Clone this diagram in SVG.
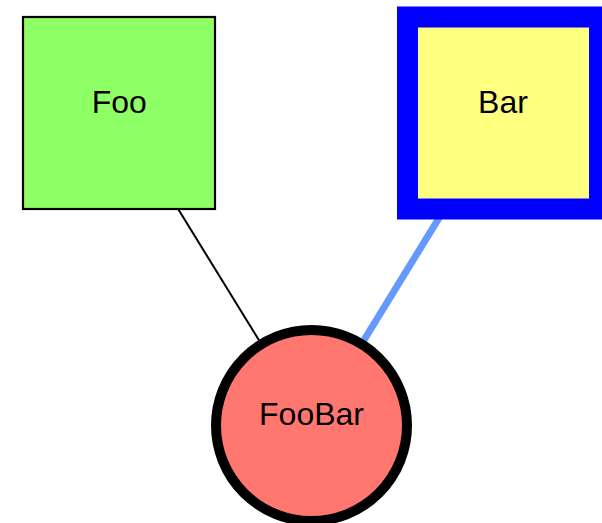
<svg xmlns="http://www.w3.org/2000/svg" width="602" height="523" viewBox="0 0 602 523">
<style>
.lbl{font-family:"Liberation Sans",Arial,sans-serif;font-size:32px;fill:#000;text-anchor:middle}
</style>
<rect width="602" height="523" fill="#fff"/>
<g id="edges" fill="none">
<line x1="311.5" y1="425.5" x2="119" y2="113" stroke="#000" stroke-width="2"/>
<line x1="311.5" y1="425.5" x2="503.5" y2="113" stroke="#6699ff" stroke-width="7"/>
</g>
<g id="foo">
<rect x="23" y="17" width="192" height="192" fill="#8fff66" stroke="#000" stroke-width="2.2"/>
<text class="lbl" x="119.3" y="113">Foo</text>
</g>
<g id="bar">
<rect x="407.5" y="17" width="192" height="192" fill="#ffff80" stroke="#0000ff" stroke-width="21"/>
<text class="lbl" x="503" y="113">Bar</text>
</g>
<g id="foobar">
<circle cx="311.5" cy="425.5" r="95.5" fill="#ff776e" stroke="#000" stroke-width="10"/>
<text class="lbl" x="311.5" y="425">FooBar</text>
</g>
</svg>
